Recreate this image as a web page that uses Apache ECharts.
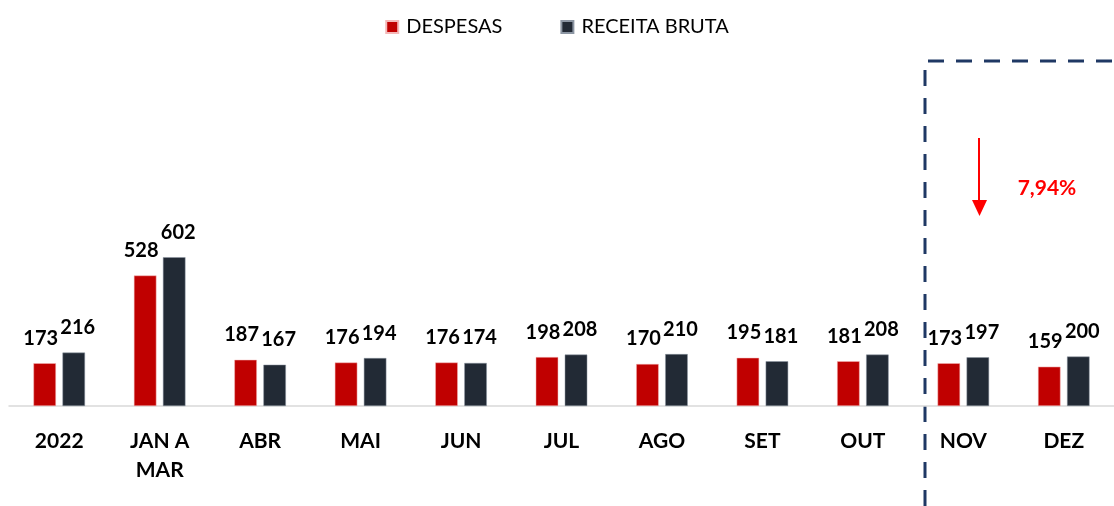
<!DOCTYPE html>
<html>
<head>
<meta charset="utf-8">
<script src="https://cdn.jsdelivr.net/npm/echarts@6/dist/echarts.min.js"></script>
<style>
html,body{margin:0;padding:0;background:#fff;}
#c{width:1114px;height:506px;}
</style>
</head>
<body>
<div id="c"></div>
<script>
const categories = ['2022', 'JAN A\nMAR', 'ABR', 'MAI', 'JUN', 'JUL', 'AGO', 'SET', 'OUT', 'NOV', 'DEZ'];
const despesas = [173, 528, 187, 176, 176, 198, 170, 195, 181, 173, 159];
const receitaBruta = [216, 602, 167, 194, 174, 208, 210, 181, 208, 197, 200];
const variationText = '7,94%';

const FONT = 'Lato, "Open Sans", sans-serif';
const chart = echarts.init(document.getElementById('c'), null, {renderer: 'canvas'});

function labelStyle(dx) {
  return {
    show: true,
    position: 'top',
    distance: 15,
    offset: [dx, 0],
    color: '#000',
    fontFamily: FONT,
    fontWeight: 'bold',
    fontSize: 20
  };
}

chart.setOption({
  animation: false,
  backgroundColor: '#fff',
  legend: {
    top: 12,
    left: 'center',
    itemWidth: 12,
    itemHeight: 12,
    itemGap: 58,
    icon: 'rect',
    textStyle: {fontFamily: FONT, fontSize: 20, color: '#000', padding: [0, 0, 0, 3]},
    data: ['DESPESAS', 'RECEITA BRUTA']
  },
  grid: {left: 9, right: -9, top: 60, bottom: 100, containLabel: false},
  xAxis: {
    type: 'category',
    data: categories,
    axisLine: {show: true, lineStyle: {color: '#d9d9d9', width: 1.5}},
    axisTick: {show: false},
    axisLabel: {
      margin: 21,
      color: '#000',
      fontFamily: FONT,
      fontWeight: 'bold',
      fontSize: 21,
      lineHeight: 29,
      interval: 0
    }
  },
  yAxis: {
    type: 'value',
    min: 0,
    max: 1400,
    show: false,
    splitLine: {show: false}
  },
  series: [
    {
      name: 'DESPESAS',
      type: 'bar',
      data: despesas,
      barWidth: 22.5,
      barGap: '29%',
      itemStyle: {color: '#C00000', borderColor: '#f4b8b8', borderWidth: 0.5},
      label: labelStyle(-4)
    },
    {
      name: 'RECEITA BRUTA',
      type: 'bar',
      data: receitaBruta,
      barWidth: 22.5,
      itemStyle: {color: '#222A35', borderColor: '#8c96a3', borderWidth: 0.5},
      label: labelStyle(4)
    }
  ],
  graphic: [
    {
      type: 'polyline',
      shape: {points: [[925, 506], [925, 61], [1114, 61]]},
      style: {stroke: '#1F3864', lineWidth: 3, lineDash: [16, 12], fill: null}
    },
    {
      type: 'line',
      shape: {x1: 979, y1: 138, x2: 979, y2: 202},
      style: {stroke: '#FF0000', lineWidth: 2}
    },
    {
      type: 'polygon',
      shape: {points: [[972, 200], [987, 200], [979.5, 216]]},
      style: {fill: '#FF0000'}
    },
    {
      type: 'text',
      x: 1047,
      y: 188,
      style: {
        text: variationText,
        fill: '#FF0000',
        font: 'bold 21px ' + FONT,
        textAlign: 'center',
        textVerticalAlign: 'middle'
      }
    }
  ]
});
</script>
</body>
</html>
